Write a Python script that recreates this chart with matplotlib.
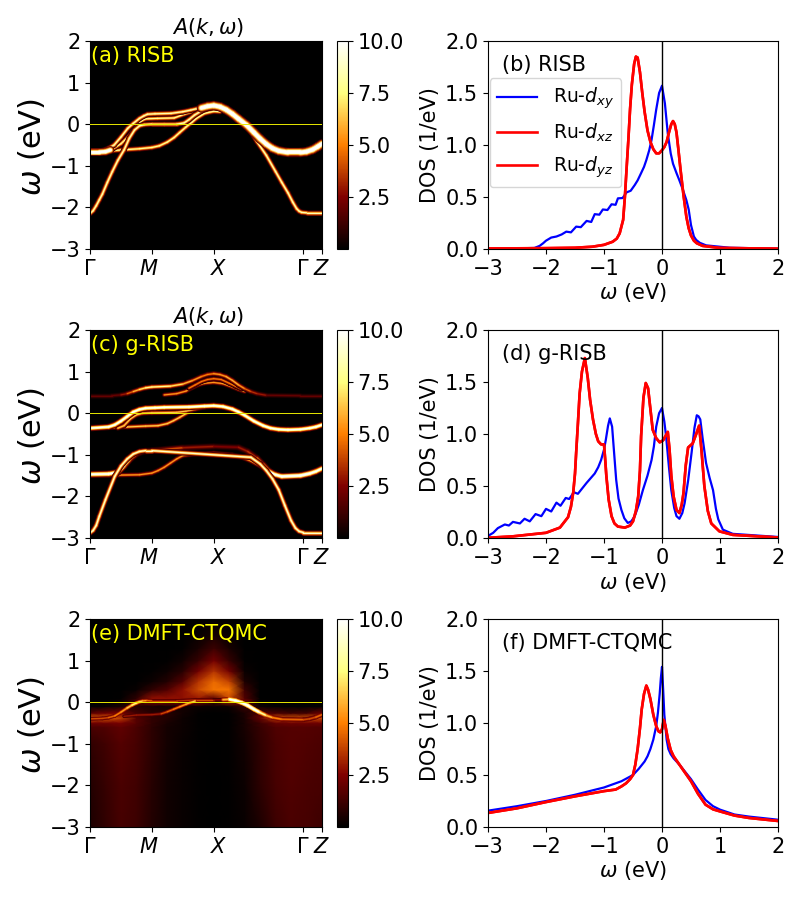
# -*- coding: utf-8 -*-
# Spectral functions and orbital DOS: RISB, g-RISB, DMFT-CTQMC
import numpy as np
import matplotlib
matplotlib.use('Agg')
import matplotlib.pyplot as plt
from matplotlib.cm import ScalarMappable
from matplotlib.collections import LineCollection
from matplotlib.colors import Normalize
from matplotlib.transforms import ScaledTranslation

# k path ----------------------------------------------------------------------
k_ticks  = [0, 1, 2, 3.44, 3.75]
k_labels = [r'$\Gamma$', r'$M$', r'$X$', r'$\Gamma$', r'$Z$']

# bands
a_xy_k = [0, .05, .1, .15, .2, .28, .36, .45, .55, .635, .72, .8, .88, 1, 1.2, 1.4, 1.52, 1.6, 1.69, 1.8, 1.9, 2, 2.1, 2.2, 2.3, 2.4, 2.53, 2.7, 2.85, 3, 3.1, 3.2, 3.28, 3.34, 3.38, 3.42, 3.5, 3.75]
a_xy_w = [-2.15, -2.08, -1.96, -1.82, -1.68, -1.4, -1.14, -.87, -.62, -.34, -.14, -.04, -.01, 0, 0, 0, .03, .11, .22, .32, .38, .41, .38, .3, .22, .12, 0, -.42, -.75, -1.14, -1.4, -1.65, -1.88, -2.03, -2.09, -2.12, -2.13, -2.13]
a_top_k = [0, .2, .3, .39, .5, .61, .7, .8, .87, .93, 1.05, 1.31, 1.5, 1.63, 1.8, 1.95, 2.05]
a_top_w = [-.67, -.64, -.58, -.5, -.31, -.1, .02, .14, .2, .24, .25, .26, .3, .34, .4, .46, .47]
a_mid_k = [.3, .38, .5, .635, .77, .84, .9, 1.09, 1.36, 1.52, 1.65]
a_mid_w = [-.64, -.58, -.47, -.28, -.02, .09, .13, .14, .15, .24, .3]
a_low_k = [0, .5, .8, 1, 1.12, 1.25, 1.36, 1.45, 1.55, 1.65, 1.72, 1.85, 2, 2.1]
a_low_w = [-.68, -.62, -.59, -.56, -.52, -.43, -.32, -.2, -.07, .05, .14, .26, .31, .3]
a_thick_k = [1.8, 1.9, 2, 2.1, 2.2, 2.3, 2.4, 2.53, 2.65, 2.75, 2.85, 2.95, 3.05, 3.2, 3.4, 3.5, 3.6, 3.68, 3.75]
a_thick_w = [.39, .43, .45, .42, .35, .25, .13, -.02, -.2, -.35, -.48, -.58, -.64, -.68, -.68, -.66, -.61, -.54, -.47]
a_flat_k = [0, .15, .25, .33]
a_flat_w = [-.67, -.67, -.66, -.62]

# bands
c_up1_k = [0, .35, .5, .6, .7, .8, .9, 1, 1.3, 1.5, 1.65, 1.8, 1.9, 2, 2.1, 2.2, 2.3, 2.4, 2.5, 2.6, 2.7, 2.85, 3.4, 3.75]
c_up1_w = [.42, .42, .44, .47, .52, .57, .61, .63, .65, .7, .78, .88, .93, .95, .93, .88, .79, .68, .59, .52, .47, .43, .42, .42]
c_up1_a = [2, 2, 3, 4.5, 6, 7, 8, 8, 7, 6, 5.5, 5, 5, 5.5, 5.5, 6, 6, 5.5, 4.5, 3.5, 3, 2, 2, 2]
c_up2_k = [1.2, 1.4, 1.55, 1.65, 1.75, 1.85, 2, 2.15, 2.3, 2.4, 2.5]
c_up2_w = [.44, .47, .53, .61, .68, .72, .74, .71, .63, .57, .52]
c_up3_k = [1.6, 1.7, 1.8, 1.9, 2, 2.12, 2.25, 2.35, 2.45]
c_up3_w = [.6, .68, .76, .81, .83, .81, .72, .65, .58]
c_m1_k = [0, .3, .4, .5, .6, .7, .8, .9, 1.05, 1.2, 1.6, 1.85, 2, 2.15, 2.3, 2.4, 2.5, 2.65, 2.8, 2.92, 3.05, 3.2, 3.4, 3.55, 3.65, 3.75]
c_m1_w = [-.36, -.33, -.28, -.19, -.08, .03, .09, .12, .13, .14, .15, .17, .18, .16, .1, .03, -.05, -.19, -.3, -.36, -.39, -.4, -.39, -.36, -.33, -.28]
c_m2_k = [0, .6, .9, 1.1, 1.25, 1.35, 1.45, 1.55, 1.65, 1.75, 1.9, 2]
c_m2_w = [-.36, -.33, -.31, -.3, -.25, -.18, -.1, -.01, .07, .13, .17, .18]
c_m3_k = [.45, .55, .65, .75, .85, 1, 1.4, 1.55, 1.7, 1.85, 2]
c_m3_w = [-.36, -.3, -.14, -.04, 0, .01, .02, .05, .1, .15, .18]
c_l1_k = [0, .3, .45, .55, .65, .75, .85, 1, 1.5, 2, 2.4, 2.55, 2.7, 2.8, 2.9, 3, 3.1, 3.4, 3.55, 3.65, 3.75]
c_l1_w = [-1.47, -1.46, -1.42, -1.27, -1.1, -.98, -.92, -.9, -.83, -.8, -.82, -.92, -1.08, -1.24, -1.4, -1.48, -1.52, -1.5, -1.45, -1.4, -1.33]
c_l1_a = [12, 12, 10, 8, 6, 4.5, 4, 4, 3, 2.5, 3, 3.5, 5, 7, 10, 12, 13, 13, 12, 11, 10]
c_l2_k = [0, .8, 1, 1.1, 1.2, 1.3, 1.4, 1.5, 1.7, 2, 2.3, 2.45, 2.6, 2.75, 2.9]
c_l2_w = [-1.5, -1.48, -1.44, -1.38, -1.3, -1.2, -1.1, -1.02, -.98, -.96, -1, -1.06, -1.15, -1.27, -1.42]
c_l3_k = [0, .05, .1, .15, .25, .4, .5, .6, .7, .8, .9, 1, 2.6, 2.75, 2.85, 2.95, 3.05, 3.15, 3.25, 3.32, 3.38, 3.45, 3.75]
c_l3_w = [-2.88, -2.82, -2.7, -2.48, -2.08, -1.52, -1.27, -1.1, -.98, -.92, -.9, -.9, -1.06, -1.22, -1.38, -1.58, -1.84, -2.22, -2.58, -2.76, -2.84, -2.87, -2.87]

# bands
e_b1_k = [0, .2, .3, .4, .5, .6, .68, .75, .8, .85, .92, 1, 1.4, 1.7, 2, 2.15]
e_b1_w = [-.4, -.39, -.37, -.33, -.24, -.14, -.07, -.02, .01, .03, .04, .03, .03, .05, .05, .06]
e_b1_a = [4, 4, 4.5, 5, 5.5, 6.5, 7.5, 7.5, 6.5, 5.5, 4.5, 4, 3.5, 4, 2.5, 6]
e_b2_k = [.55, .75, 1, 1.15, 1.25, 1.35, 1.45, 1.55, 1.62, 1.7]
e_b2_w = [-.34, -.31, -.3, -.28, -.23, -.17, -.11, -.05, -.01, .03]
e_b2_a = [3, 3, 3, 4, 4.5, 5, 5.5, 6, 6.5, 6.5]
e_b3_k = [2.15, 2.25, 2.35, 2.45, 2.55, 2.65, 2.75, 2.85, 2.95, 3.1, 3.45, 3.55, 3.65, 3.75]
e_b3_w = [.06, .07, .04, -.01, -.08, -.17, -.25, -.32, -.37, -.41, -.42, -.4, -.36, -.3]
e_b3_a = [6, 11, 12, 12, 12, 11, 8, 6, 5, 4.5, 4, 4, 4.5, 5]

# diffuse background of panel (e)
e_grid_k = [0, .25, .5, .75, 1, 1.25, 1.5, 1.75, 2, 2.25, 2.5, 2.75, 3, 3.25, 3.5, 3.75]
e_grid_w = [-3, -2, -1, -.6, -.5, -.38, -.26, -.1, .01, .1, .3, .5, .75, 1, 1.3, 1.6, 2]
e_grid_a = [
    [.6, 1.0, 1.4, 1.2, .7, .35, .2, .1, .05, .1, .2, .6, 1.2, 1.5, 1.4, 1.2],
    [.7, 1.1, 1.5, 1.3, .8, .35, .2, .1, .05, .1, .3, .9, 1.4, 1.6, 1.5, 1.4],
    [1.0, 1.3, 1.7, 1.4, .9, .45, .2, .1, .05, .1, .4, 1.0, 1.5, 1.7, 1.6, 1.5],
    [1.5, 1.6, 1.9, 1.5, .9, .45, .3, .1, .05, .1, .5, 1.1, 1.6, 1.7, 1.7, 1.6],
    [2.2, 2.2, 2.4, 1.7, 1.0, .5, .3, .1, .05, .1, .5, 1.2, 2.0, 2.2, 2.2, 2.2],
    [4.2, 4.2, 3.8, 1.7, 1.0, .7, .3, .1, .05, .1, .5, 2.0, 3.8, 4.0, 4.0, 4.0],
    [1.8, 2.2, 2.4, 1.3, .8, .8, .4, .1, .05, .1, .6, 1.6, 1.5, 1.2, 1.3, 2.2],
    [.1, .2, .5, .8, .5, .4, .4, .3, .2, .3, 1.2, .3, .1, .05, .05, .1],
    [.02, .05, .3, 1.5, 2.5, 2.5, 2.5, 2.5, 1.2, 3.0, 2.2, .1, .02, .02, .02, .02],
    [0, .02, .1, .9, 2.8, 2.8, 2.8, 3.0, 1.8, 4.0, 1.6, .05, 0, 0, 0, 0],
    [0, 0, .02, .2, 1.0, 1.6, 2.8, 4.0, 4.8, 4.8, 1.2, .02, 0, 0, 0, 0],
    [0, 0, 0, .05, .3, .7, 1.7, 3.5, 4.6, 3.8, .6, 0, 0, 0, 0, 0],
    [0, 0, 0, 0, .1, .3, .8, 2.2, 3.5, 2.2, .25, 0, 0, 0, 0, 0],
    [0, 0, 0, 0, .02, .1, .35, 1.1, 2.3, 1.1, .1, 0, 0, 0, 0, 0],
    [0, 0, 0, 0, 0, .02, .1, .5, 1.2, .5, .03, 0, 0, 0, 0, 0],
    [0, 0, 0, 0, 0, 0, .02, .2, .5, .2, 0, 0, 0, 0, 0, 0],
    [0, 0, 0, 0, 0, 0, 0, .05, .1, .05, 0, 0, 0, 0, 0, 0],
]

# DOS panel (b) ---------------------------------------------------------------
b_xy_w = [-3, -2.2, -2.11, -2.05, -2, -1.91, -1.82, -1.73, -1.65, -1.57, -1.48, -1.4, -1.3, -1.22, -1.16, -1.08, -1.02, -.94, -.87, -.8, -.76, -.68, -.61, -.54, -.47, -.42, -.36, -.31, -.27, -.22, -.18, -.14, -.1, -.05, 0, .05, .1, .15, .19, .25, .3, .36, .42, .46, .5, .55, .59, .65, .76, 1.17, 2]
b_xy_d = [0, .01, .03, .055, .08, .11, .12, .14, .167, .16, .215, .21, .27, .26, .335, .33, .38, .375, .43, .425, .487, .49, .545, .56, .615, .66, .73, .79, .855, .95, 1.05, 1.19, 1.34, 1.5, 1.57, 1.4, 1.11, .92, .82, .73, .66, .57, .47, .38, .23, .12, .087, .06, .035, .012, .003]
b_xz_w = [-3, -2, -1.5, -1.2, -1, -.85, -.78, -.73, -.67, -.64, -.61, -.58, -.55, -.52, -.48, -.45, -.42, -.38, -.34, -.3, -.25, -.2, -.15, -.1, -.05, 0, .04, .08, .12, .16, .19, .22, .25, .28, .32, .37, .42, .46, .5, .55, .6, .7, 1, 2]
b_xz_d = [.005, .008, .012, .022, .04, .07, .1, .15, .28, .5, .78, 1.05, 1.35, 1.58, 1.78, 1.85, 1.84, 1.7, 1.5, 1.32, 1.14, 1.03, .96, .92, .92, .95, .98, 1.03, 1.12, 1.2, 1.23, 1.2, 1.12, .97, .76, .52, .31, .2, .13, .08, .055, .03, .01, .003]

# DOS panel (d)
d_xy_w = [-3, -2.91, -2.83, -2.71, -2.64, -2.57, -2.45, -2.37, -2.28, -2.18, -2.08, -2, -1.91, -1.82, -1.75, -1.66, -1.6, -1.52, -1.45, -1.3, -1.16, -1.1, -1.05, -1, -.97, -.93, -.9, -.86, -.83, -.79, -.75, -.7, -.65, -.59, -.53, -.47, -.4, -.33, -.25, -.18, -.14, -.1, -.05, 0, .04, .07, .12, .16, .21, .25, .3, .35, .39, .45, .51, .56, .6, .63, .66, .7, .76, .82, .88, .93, .97, 1.05, 1.22, 2]
d_xy_d = [.02, .05, .095, .13, .12, .155, .14, .185, .16, .23, .21, .28, .255, .34, .31, .385, .375, .44, .425, .53, .62, .68, .75, .85, .94, 1.08, 1.15, 1.07, .85, .56, .38, .27, .19, .145, .16, .21, .32, .46, .6, .75, .88, 1.07, 1.2, 1.25, 1.12, .98, .68, .46, .29, .21, .185, .24, .335, .55, .82, 1.06, 1.18, 1.17, 1.14, .96, .72, .58, .46, .28, .18, .08, .04, .01]
d_xz_w = [-3, -2.57, -2, -1.76, -1.62, -1.57, -1.53, -1.5, -1.48, -1.45, -1.42, -1.38, -1.33, -1.28, -1.24, -1.19, -1.14, -1.1, -1.05, -1, -.98, -.96, -.92, -.87, -.82, -.76, -.64, -.55, -.5, -.45, -.41, -.38, -.36, -.32, -.28, -.24, -.2, -.16, -.1, -.04, .02, .06, .1, .13, .16, .2, .25, .3, .34, .37, .41, .45, .53, .59, .64, .68, .73, .79, .85, .99, 1.22, 2]
d_xz_d = [.002, .016, .05, .1, .2, .3, .44, .62, .82, 1.1, 1.39, 1.6, 1.73, 1.54, 1.33, 1.14, 1.0, .93, .9, .9, .76, .6, .37, .21, .14, .11, .1, .12, .16, .26, .4, .65, .98, 1.35, 1.49, 1.44, 1.24, 1.04, .96, .92, .94, .98, 1.02, .85, .6, .4, .27, .24, .32, .43, .7, .87, .91, 1.0, 1.08, .85, .5, .26, .14, .064, .03, .005]

# DOS panel (f)
f_xy_w = [-3, -2.5, -2, -1.5, -1, -.7, -.5, -.4, -.3, -.25, -.2, -.15, -.1, -.07, -.04, -.02, 0, .02, .04, .08, .11, .15, .2, .3, .4, .5, .62, .75, .88, 1, 1.25, 1.5, 2]
f_xy_d = [.157, .2, .25, .31, .38, .44, .5, .56, .63, .68, .75, .84, .97, 1.1, 1.28, 1.43, 1.54, 1.32, 1.08, .84, .75, .7, .66, .6, .53, .46, .36, .26, .2, .167, .12, .1, .07]
f_xz_w = [-3, -2.5, -2, -1.5, -1, -.8, -.7, -.62, -.55, -.5, -.46, -.42, -.38, -.35, -.31, -.27, -.24, -.2, -.15, -.1, -.06, -.03, 0, .03, .06, .1, .15, .2, .3, .4, .5, .62, .75, .88, 1, 1.25, 1.5, 2]
f_xz_d = [.135, .18, .24, .295, .345, .36, .39, .42, .46, .5, .6, .75, .95, 1.13, 1.28, 1.36, 1.32, 1.23, 1.08, .97, .92, .91, .94, 1.03, .97, .85, .74, .68, .6, .52, .44, .32, .215, .17, .15, .11, .087, .058]

cmap = 'afmhot'
norm = Normalize(vmin=0.03, vmax=10)
glow = [(5.2, .12), (4.2, .26), (3.2, .45), (2.2, .68), (1.1, 1.0)]
plt.rcParams['font.size'] = 15

fig = plt.figure(figsize=(8, 9), dpi=100)

def pixel_axes(x0, x1, y0, y1):
    # pixel box, y from top of the figure
    return fig.add_axes([x0 / 800, 1 - y1 / 900, (x1 - x0) / 800, (y1 - y0) / 900])

def draw_band(ax, k, w, a=10.0, lw=1.0, first=0):
    # glow made of stacked lines, dim and wide first
    pts = np.column_stack([k, w])
    segs = np.stack([pts[:-1], pts[1:]], axis=1)
    a = np.broadcast_to(a, (len(k),))[:-1]
    sm = ScalarMappable(norm=norm, cmap=cmap)
    for width, level in glow[first:]:
        lc = LineCollection(segs, colors=sm.to_rgba(a * level), linewidths=width * lw, capstyle='round', joinstyle='round')
        ax.add_collection(lc)

def band_panel(ax, label, title=None):
    ax.axhline(0, color='#e8e800', lw=0.7, zorder=5)
    ax.set_xlim(0, 3.75)
    ax.set_ylim(-3, 2)
    ax.set_xticks(k_ticks)
    ax.set_xticklabels(k_labels)
    # M and X labels sit a little off their ticks
    for lab, dx in zip(ax.get_xticklabels(), [0, -3, 5, 0, 0]):
        lab.set_transform(lab.get_transform() + ScaledTranslation(dx / 100, 0, fig.dpi_scale_trans))
    ax.set_yticks([-3, -2, -1, 0, 1, 2])
    ax.set_ylabel(r'$\omega$ (eV)', fontsize=22, labelpad=2, y=0.49)
    ax.text(0.006, 0.93, label, color='yellow', fontsize=15, transform=ax.transAxes, va='center', zorder=6)
    if title:
        ax.set_title(title, fontsize=15, pad=5, x=0.51)

def add_colorbar(y0, y1):
    cax = pixel_axes(337, 348, y0, y1)
    cb = fig.colorbar(ScalarMappable(norm=norm, cmap=cmap), cax=cax)
    cb.set_ticks([2.5, 5, 7.5, 10])
    cb.set_ticklabels(['2.5', '5.0', '7.5', '10.0'])

def dos_panel(ax, label, xy_w, xy_d, xz_w, xz_d):
    ax.plot(xy_w, xy_d, color='b', lw=1.6, label=r'Ru-$d_{xy}$')
    ax.plot(xz_w, xz_d, color='r', lw=1.9, label=r'Ru-$d_{xz}$')
    ax.plot(xz_w, xz_d, color='r', lw=1.9, label=r'Ru-$d_{yz}$')
    ax.axvline(0, color='k', lw=1)
    ax.set_xlim(-3, 2)
    ax.set_ylim(0, 2)
    ax.set_yticks([0, .5, 1, 1.5, 2])
    ax.set_xticks([-3, -2, -1, 0, 1, 2])
    ax.set_xlabel(r'$\omega$ (eV)', fontsize=15, labelpad=2)
    ax.set_ylabel('DOS (1/eV)', fontsize=15, labelpad=4)
    ax.text(0.05, 0.885, label, fontsize=15, transform=ax.transAxes, va='center')

# panel a ---------------------------------------------------------------------
ax = pixel_axes(90, 322, 41, 249)
ax.set_facecolor('black')
draw_band(ax, a_low_k, a_low_w, 8, .78)
draw_band(ax, a_mid_k, a_mid_w, 8, .75)
draw_band(ax, a_top_k, a_top_w, 8.5, .78)
draw_band(ax, a_xy_k, a_xy_w, 8.5, .78)
draw_band(ax, a_flat_k, a_flat_w, 14, 1.1)
draw_band(ax, a_thick_k, a_thick_w, 14, 1.3)
band_panel(ax, '(a) RISB', r'$A(k,\omega)$')
add_colorbar(41, 249)

# panel b
ax = pixel_axes(488, 778, 41, 249)
dos_panel(ax, '(b) RISB', b_xy_w, b_xy_d, b_xz_w, b_xz_d)
ax.legend(loc='upper left', bbox_to_anchor=(0.006, 0.82), borderaxespad=0, fontsize=13.5, handlelength=2.1, labelspacing=.55, handletextpad=.85)

# panel c
ax = pixel_axes(90, 322, 330, 538)
ax.set_facecolor('black')
draw_band(ax, c_up2_k, c_up2_w, 5.5, .68)
draw_band(ax, c_up3_k, c_up3_w, 5, .68)
draw_band(ax, c_up1_k, c_up1_w, c_up1_a, .75)
draw_band(ax, c_m2_k, c_m2_w, 6.5, .72)
draw_band(ax, c_m3_k, c_m3_w, 6.5, .72)
draw_band(ax, c_m1_k, c_m1_w, 11, .88)
draw_band(ax, c_l2_k, c_l2_w, 5.5, .7)
draw_band(ax, c_l1_k, c_l1_w, c_l1_a, .95)
draw_band(ax, c_l3_k, c_l3_w, 9, .78)
band_panel(ax, '(c) g-RISB', r'$A(k,\omega)$')
add_colorbar(330, 538)

# panel d
ax = pixel_axes(488, 778, 330, 538)
dos_panel(ax, '(d) g-RISB', d_xy_w, d_xy_d, d_xz_w, d_xz_d)

# panel e
ax = pixel_axes(90, 322, 619, 827)
ax.pcolormesh(e_grid_k, e_grid_w, np.array(e_grid_a), cmap=cmap, norm=norm, shading='gouraud')
draw_band(ax, e_b1_k, e_b1_w, e_b1_a, .85, first=2)
draw_band(ax, e_b2_k, e_b2_w, e_b2_a, .78, first=2)
draw_band(ax, e_b3_k, e_b3_w, e_b3_a, 1.0, first=2)
band_panel(ax, '(e) DMFT-CTQMC')
add_colorbar(619, 827)

# panel f
ax = pixel_axes(488, 778, 619, 827)
dos_panel(ax, '(f) DMFT-CTQMC', f_xy_w, f_xy_d, f_xz_w, f_xz_d)

plt.savefig('out.png', dpi=100)
